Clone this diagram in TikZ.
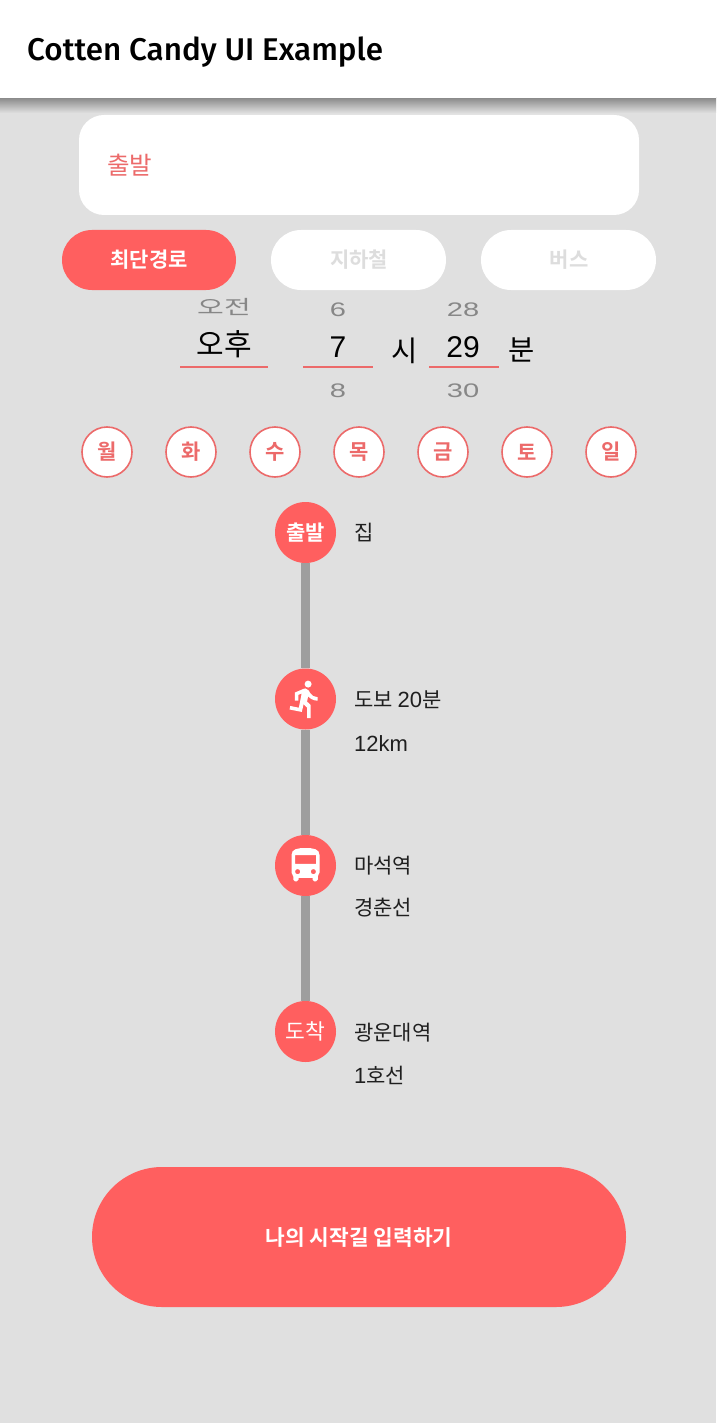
\documentclass[tikz,border=0pt]{standalone}
\usepackage{fontspec}
\usetikzlibrary{svg.path}
\setmainfont{Noto Sans CJK KR}[BoldFont=Noto Sans CJK KR Bold]
\newfontfamily\titlefont{Fira Sans Medium}
\newfontfamily\digitfont{Liberation Sans}
\definecolor{bgc}{HTML}{E0E0E0}
\definecolor{coral}{HTML}{FF5F5F}
\definecolor{softred}{HTML}{EC6A6A}
\definecolor{greytxt}{HTML}{878787}
\definecolor{paleTxt}{HTML}{DDDDDD}
\definecolor{linec}{HTML}{9E9E9E}
\tikzset{
  x=1pt,y=-1pt,
  fs/.style={font=\fontsize{#1}{#1}\selectfont},
  fsb/.style={font=\fontsize{#1}{#1}\selectfont\bfseries},
  daycirc/.style={circle,draw=softred,line width=1.6pt,fill=white,minimum size=50pt,inner sep=0pt,text=softred,fsb=21},
  stopcirc/.style={circle,fill=coral,minimum size=61pt,inner sep=0pt,text=white},
  rail/.style={draw=linec,line width=9pt},
  info/.style={anchor=west,inner sep=0pt,text=black!88,fs=21},
  pickbig/.style={inner sep=0pt,text=black},
  picksmall/.style={inner sep=0pt,text=greytxt,fs=19,xscale=1.53,yscale=1.03,transform shape},
  pickdigit/.style={picksmall,font=\digitfont\fontsize{19}{19}\selectfont},
  underl/.style={draw=softred,line width=2pt},
  iconbox/.style={xscale=1.75,yscale=-1.75},
}
\newcommand{\dg}[1]{{\digitfont\fontsize{22}{22}\selectfont #1}}
\begin{document}
\begin{tikzpicture}
\useasboundingbox (0,0) rectangle (716,1423);
\fill[bgc] (0,0) rectangle (716,1423);
% app bar
\shade[top color=black!38!bgc,bottom color=bgc] (0,98) rectangle (716,113);
\fill[white] (0,0) rectangle (716,98);
\node[anchor=west,inner sep=0pt,font=\titlefont\fontsize{31.4}{32}\selectfont] (title) at (27,52) {Cotten Candy UI Example};
% input
\fill[white,rounded corners=25pt] (79,115) rectangle (639,215);
\node[anchor=west,inner sep=0pt,text=softred,fs=24.5] (dep) at (107,165.5) {출발};
% buttons
\fill[coral,rounded corners=30pt] (62,230) rectangle (236,290);
\fill[white,rounded corners=30pt] (271,230) rectangle (446,290);
\fill[white,rounded corners=30pt] (481,230) rectangle (656,290);
\node[inner sep=0pt,text=white,fsb=21] (b1) at (149,260) {최단경로};
\node[inner sep=0pt,text=paleTxt,fsb=21] (b2) at (359,260) {지하철};
\node[inner sep=0pt,text=paleTxt,fsb=21] (b3) at (569,260) {버스};
% pickers
\node[picksmall] (am) at (224,307) {오전};
\node[pickbig,fs=30] (pm) at (224,344.5) {오후};
\node[pickdigit] (h6) at (338,309.5) {6};
\node[pickbig,font=\digitfont\fontsize{30}{30}\selectfont] (h7) at (338,347.5) {7};
\node[pickdigit] (h8) at (338,390.5) {8};
\node[pickdigit] (m28) at (463,309.5) {28};
\node[pickbig,font=\digitfont\fontsize{30}{30}\selectfont] (m29) at (463,347.5) {29};
\node[pickdigit] (m30) at (463,390.5) {30};
\node[pickbig,fs=28.5] (si) at (404.5,351) {시};
\node[pickbig,fs=28.5] (bun) at (521.5,350) {분};
\draw[underl] (180,367) -- (268,367);
\draw[underl] (303,367) -- (373,367);
\draw[underl] (429,367) -- (499,367);
% days
\node[daycirc] (d1) at (107,452) {월};
\node[daycirc] (d2) at (191,452) {화};
\node[daycirc] (d3) at (275,452) {수};
\node[daycirc] (d4) at (359,452) {목};
\node[daycirc] (d5) at (443,452) {금};
\node[daycirc] (d6) at (527,452) {토};
\node[daycirc] (d7) at (611,452) {일};
% stops
\node[stopcirc,fsb=21] (s1) at (305.5,532.5) {출발};
\node[stopcirc] (s2) at (305.5,699) {};
\node[stopcirc] (s3) at (305.5,865.5) {};
\node[stopcirc,fs=21.5] (s4) at (305.5,1031.5) {도착};
\draw[rail] (s1) -- (s2);
\draw[rail] (s2) -- (s3);
\draw[rail] (s3) -- (s4);
% icons
\begin{scope}[shift={(284.5,678)},iconbox]
\fill[white] svg {M13.49 5.48c1.1 0 2-.9 2-2s-.9-2-2-2-2 .9-2 2 .9 2 2 2zm-3.6 13.9l1-4.4 2.1 2v6h2v-7.5l-2.1-2 .6-3c1.3 1.5 3.3 2.5 5.5 2.5v-2c-1.9 0-3.5-1-4.3-2.4l-1-1.6c-.4-.6-1-1-1.7-1-.3 0-.5.1-.8.1l-5.2 2.2v4.7h2v-3.4l1.8-.7-1.6 8.1-4.9-1-.4 2 7 1.4z};
\end{scope}
\begin{scope}[shift={(284.5,844.5)},iconbox]
\fill[white,even odd rule] svg {M4 16c0 .88.39 1.67 1 2.22V20c0 .55.45 1 1 1h1c.55 0 1-.45 1-1v-1h8v1c0 .55.45 1 1 1h1c.55 0 1-.45 1-1v-1.78c.61-.55 1-1.34 1-2.22V6c0-3.5-3.58-4-8-4s-8 .5-8 4v10zm3.5 1c-.83 0-1.5-.67-1.5-1.5S6.67 14 7.5 14s1.5.67 1.5 1.5S8.33 17 7.5 17zm9 0c-.83 0-1.5-.67-1.5-1.5s.67-1.5 1.5-1.5 1.5.67 1.5 1.5-.67 1.5-1.5 1.5zm1.5-6H6V6h12v5z};
\end{scope}
% infos
\node[info] (t1) at (354,533) {집};
\node[info] (t2) at (354,700) {도보 \dg{20}분};
\node[info] (t3) at (354,744) {\dg{12km}};
\node[info] (t4) at (354,866) {마석역};
\node[info] (t5) at (354,907.5) {경춘선};
\node[info] (t6) at (354,1032.5) {광운대역};
\node[info] (t7) at (354,1075) {\dg{1}호선};
% main button
\fill[coral,rounded corners=70pt] (92,1167) rectangle (626,1307);
\node[inner sep=0pt,text=white,fsb=21.4] (go) at (359,1237.5) {나의 시작길 입력하기};
\end{tikzpicture}
\end{document}
